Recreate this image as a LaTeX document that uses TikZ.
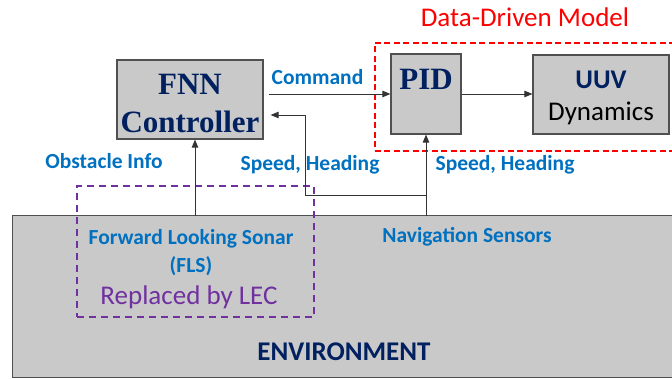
\documentclass[tikz,border=0pt]{standalone}
\usepackage{fontspec}
\setmainfont{Carlito}
\newfontfamily\timesfont{Liberation Serif}
\usetikzlibrary{arrows.meta, positioning}
\definecolor{boxgray}{RGB}{201, 201, 201}
\definecolor{edgegray}{RGB}{80, 80, 80}
\definecolor{labelblue}{RGB}{0, 112, 192}
\definecolor{titlenavy}{RGB}{0, 32, 96}
\definecolor{lecpurple}{RGB}{112, 48, 160}
\definecolor{modelred}{RGB}{255, 0, 0}

\begin{document}
\begin{tikzpicture}[
  x=1pt, y=1pt,
  blockbox/.style={draw=edgegray, line width=1.2pt, fill=boxgray, inner sep=0pt,
    align=center},
  serifbold/.style={font=\timesfont\bfseries\fontsize{31}{38}\selectfont, text=titlenavy,
    align=center},
  siglabel/.style={font=\bfseries\fontsize{21.5}{28}\selectfont, text=labelblue,
    align=center},
  biglabel/.style={font=\fontsize{27}{32}\selectfont, align=center},
  arr/.style={-{Triangle[length=8pt, width=6.5pt]}, line width=0.9pt, draw=black!80}
]
\useasboundingbox (0,0) rectangle (672,379);

% Environment block
\node[blockbox, minimum width=670, minimum height=162, anchor=south west] (env) at (12,1) {};
\node[font=\bfseries\fontsize{27}{32}\selectfont, text=titlenavy] (envtext) at (344,27) {ENVIRONMENT};
\node[siglabel] (navsens) at (467,142) {Navigation Sensors};
\node[siglabel] (fls) at (191,126) {Forward Looking Sonar\\(FLS)};
\node[biglabel, text=lecpurple] (lec) at (189,82) {Replaced by LEC};

% LEC region and data-driven region
\node[draw=lecpurple, line width=1.4pt, dash pattern=on 7pt off 5pt,
  minimum width=237, minimum height=131, inner sep=0pt] (lecbox) at (195.5,127.5) {};
\node[draw=modelred, line width=1.6pt, dash pattern=on 6pt off 3.5pt,
  minimum width=310, minimum height=108, inner sep=0pt, anchor=north west] (ddm) at (374,337) {};
\node[biglabel, text=modelred] (ddmtext) at (525,362) {Data-Driven Model};

% Control blocks
\node[blockbox, minimum width=146, minimum height=79,
  label={[serifbold, yshift=-4pt]center:FNN\\Controller}] (fnn) at (190,279.5) {};
\node[blockbox, minimum width=70, minimum height=80,
  label={[serifbold, anchor=north, yshift=-12pt]north:PID}] (pid) at (426,285) {};
\node[blockbox, minimum width=136, minimum height=79,
  label={[biglabel, yshift=-3pt]center:\textbf{\textcolor{titlenavy}{UUV}}\\Dynamics}] (uuv) at (601,284.5) {};

% Signal labels
\node[siglabel] (cmd) at (317.5,302) {Command};
\node[siglabel] (obst) at (104,218) {Obstacle Info};
\node[siglabel] (sh_fnn) at (310,214) {Speed, Heading};
\node[siglabel] (sh_pid) at (505,214) {Speed, Heading};

% Connection points
\coordinate (fls_out) at (195,163);
\coordinate (nav_out) at (426,163);
\coordinate (nav_split) at (426,184);
\coordinate (fb_turn) at (305,184);

% Arrows
\draw[arr, shorten <=5pt] (fnn.east |- pid.west) -- (pid.west);
\draw[arr] (pid.east) -- (pid.east -| uuv.west);
\draw[arr] (fls_out) -- (fls_out |- fnn.south);
\draw[arr] (nav_out) -- (pid.south);
\draw[arr, shorten >=7pt] (nav_split) -- (fb_turn) |- ([yshift=-15.5pt]fnn.east);

\end{tikzpicture}
\end{document}
